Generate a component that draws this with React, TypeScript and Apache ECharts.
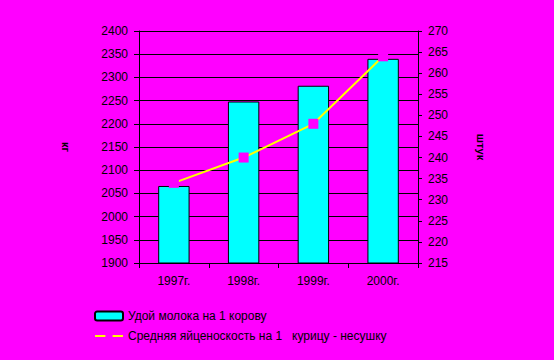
import React, { useEffect, useRef } from "react";
import * as echarts from "echarts";

const categories = ["1997г.", "1998г.", "1999г.", "2000г."];
const milkYield = [2066, 2248, 2282, 2340];
const eggYield = [234, 240, 248, 264];
const seriesNames = ["Удой молока на 1 корову", "Средняя яйценоскость на 1   курицу - несушку"];

export default function App() {
  const ref = useRef<HTMLDivElement>(null);
  useEffect(() => {
    const chart = echarts.init(ref.current!, null, { renderer: "svg" });
    const font = "Liberation Sans, Arial, sans-serif";
    chart.setOption({
      animation: false,
      backgroundColor: "#FF00FF",
      textStyle: { fontFamily: font },
      grid: { left: 139, right: 136, top: 31, bottom: 97 },
      legend: {
        orient: "vertical",
        left: 89,
        top: 305,
        itemWidth: 28,
        itemHeight: 9,
        itemGap: 8,
        textStyle: { color: "#000", fontSize: 12, fontFamily: font },
        data: seriesNames,
      },
      xAxis: {
        type: "category",
        data: categories,
        axisLine: { lineStyle: { color: "#000", width: 1 } },
        axisTick: { show: true, length: 5, lineStyle: { color: "#000" } },
        axisLabel: { color: "#000", fontSize: 12, margin: 12, fontFamily: font },
      },
      yAxis: [
        {
          type: "value",
          min: 1900,
          max: 2400,
          interval: 50,
          name: "кг",
          nameLocation: "middle",
          nameGap: 68,
          nameRotate: -90,
          nameTextStyle: { color: "#000", fontSize: 11, fontWeight: "bold", fontFamily: font },
          axisLine: { show: true, lineStyle: { color: "#000" } },
          axisTick: { show: true, length: 5, lineStyle: { color: "#000" } },
          axisLabel: { color: "#000", fontSize: 12, margin: 11, fontFamily: font, formatter: (v: number) => String(v) },
          splitLine: { show: true, lineStyle: { color: "#000", width: 1 } },
        },
        {
          type: "value",
          min: 215,
          max: 270,
          interval: 5,
          name: "штук",
          nameLocation: "middle",
          nameGap: 57,
          nameRotate: -90,
          nameTextStyle: { color: "#000", fontSize: 11, fontWeight: "bold", fontFamily: font },
          axisLine: { show: true, lineStyle: { color: "#000" } },
          axisTick: { show: true, length: 4, lineStyle: { color: "#000" } },
          axisLabel: { color: "#000", fontSize: 12, margin: 10, fontFamily: font, formatter: (v: number) => String(v) },
          splitLine: { show: false },
        },
      ],
      series: [
        {
          name: seriesNames[0],
          type: "bar",
          yAxisIndex: 0,
          data: milkYield,
          barWidth: "45%",
          itemStyle: { color: "#00FFFF", borderColor: "#000", borderWidth: 1 },
        },
        {
          name: seriesNames[1],
          type: "line",
          yAxisIndex: 1,
          data: eggYield,
          symbol: "rect",
          symbolSize: 10,
          itemStyle: { color: "#FF00FF", borderWidth: 0 },
          lineStyle: { color: "#FFFF00", width: 2 },
          z: 5,
        },
      ],
    });
    return () => chart.dispose();
  }, []);
  return (
    <div
      ref={ref}
      style={{ position: "fixed", left: 0, top: 0, width: 554, height: 360 }}
    />
  );
}
